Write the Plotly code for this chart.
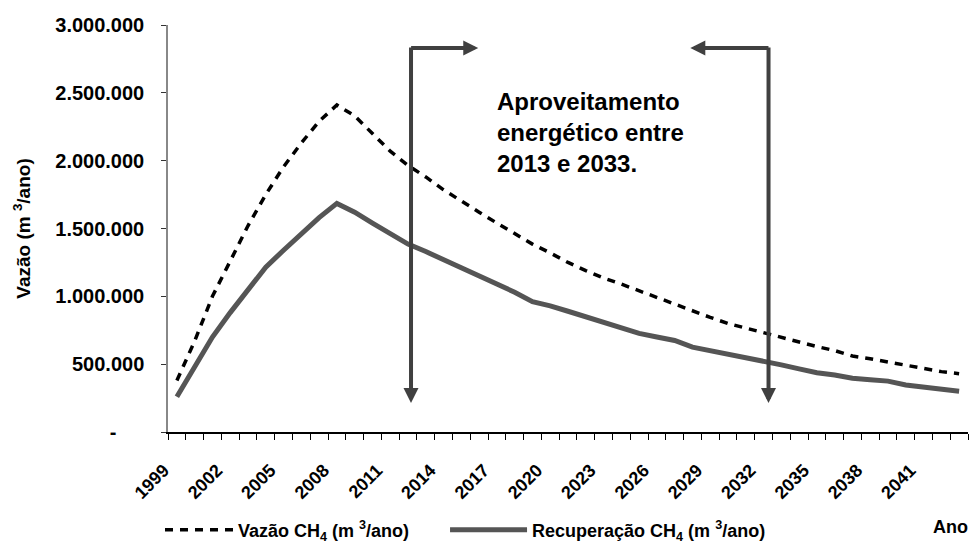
import plotly.graph_objects as go

# ---------------- data ----------------
years = [1999, 2000, 2001, 2002, 2003, 2004, 2005, 2006, 2007, 2008,
         2009, 2010, 2011, 2012, 2013, 2014, 2015, 2016, 2017, 2018,
         2019, 2020, 2021, 2022, 2023, 2024, 2025, 2026, 2027, 2028,
         2029, 2030, 2031, 2032, 2033, 2034, 2035, 2036, 2037, 2038,
         2039, 2040, 2041, 2042, 2043]

vazao_ch4 = [380000, 670000, 1000000, 1260000, 1520000, 1750000, 1955000, 2130000, 2290000, 2410000,
             2330000, 2200000, 2070000, 1965000, 1880000, 1785000, 1700000, 1620000, 1540000, 1460000,
             1385000, 1320000, 1250000, 1190000, 1135000, 1090000, 1040000, 990000, 940000, 890000,
             845000, 800000, 765000, 735000, 700000, 665000, 630000, 600000, 560000, 540000,
             515000, 490000, 465000, 445000, 430000]

recuperacao_ch4 = [260000, 480000, 700000, 880000, 1050000, 1215000, 1340000, 1460000, 1580000, 1685000,
                   1620000, 1540000, 1460000, 1385000, 1330000, 1270000, 1210000, 1150000, 1100000, 1030000,
                   960000, 930000, 890000, 850000, 810000, 770000, 727000, 700000, 675000, 625000,
                   600000, 575000, 550000, 520000, 495000, 465000, 437000, 420000, 396000, 385000,
                   375000, 346000, 330000, 315000, 300000]

x_label_years = [1999, 2002, 2005, 2008, 2011, 2014, 2017, 2020, 2023, 2026, 2029, 2032, 2035, 2038, 2041]
y_tick_values = [0, 500000, 1000000, 1500000, 2000000, 2500000, 3000000]
y_tick_labels = ["-\u00a0\u00a0\u00a0\u00a0\u00a0", "500.000", "1.000.000", "1.500.000",
                 "2.000.000", "2.500.000", "3.000.000"]

series_names = ["Vazão CH<sub>4</sub> (m <sup>3</sup>/ano)",
                "Recuperação CH<sub>4</sub> (m <sup>3</sup>/ano)"]
note_text = "Aproveitamento<br>energético entre<br>2013 e 2033."

# ---------------- styling ----------------
FONT = "Liberation Sans, Arial, Helvetica, sans-serif"
ARROW_COLOR = "#404040"
LEGEND_FONT = dict(family=FONT, size=18, color="black", weight="bold")

fig = go.Figure()
fig.add_trace(go.Scatter(
    x=years, y=vazao_ch4, mode="lines", name=series_names[0], legend="legend",
    line=dict(color="black", width=3.5, dash="8px,7px"),
))
fig.add_trace(go.Scatter(
    x=years, y=recuperacao_ch4, mode="lines", name=series_names[1], legend="legend2",
    line=dict(color="#555555", width=5),
))

# L-shaped arrows marking the period (annotation geometry, not data)
left_x, right_x = 2012.17, 2032.28
top_y, tip_y = 2830000, 214000
corner_pad = 15000
arrow_common = dict(xref="x", yref="y", axref="x", ayref="y", text="", showarrow=True,
                    arrowhead=2, arrowwidth=4, arrowsize=0.75, arrowcolor=ARROW_COLOR)
fig.add_annotation(x=left_x, y=tip_y, ax=left_x, ay=top_y + corner_pad, **arrow_common)
fig.add_annotation(x=2015.95, y=top_y, ax=left_x - 0.08, ay=top_y, **arrow_common)
fig.add_annotation(x=right_x, y=tip_y, ax=right_x, ay=top_y + corner_pad, **arrow_common)
fig.add_annotation(x=2027.88, y=top_y, ax=right_x + 0.08, ay=top_y, **arrow_common)

fig.add_annotation(
    x=2016.9, y=2550000, xref="x", yref="y", xanchor="left", yanchor="top",
    text=note_text, showarrow=False, align="left",
    font=dict(family=FONT, size=24, color="black", weight="bold"),
)
fig.add_annotation(
    x=1.0025, y=-0.233, xref="paper", yref="paper", xanchor="right", yanchor="middle",
    text="Ano", showarrow=False,
    font=dict(family=FONT, size=18, color="black", weight="bold"),
)

fig.update_layout(
    width=975, height=543,
    margin=dict(l=168, r=7, t=25, b=111, autoexpand=False),
    paper_bgcolor="white", plot_bgcolor="white",
    font=dict(family=FONT, color="black"),
    showlegend=True,
    legend=dict(
        orientation="h", x=-0.01, xanchor="left",
        y=-0.241, yanchor="middle", itemwidth=68,
        font=LEGEND_FONT, bgcolor="rgba(0,0,0,0)",
    ),
    legend2=dict(
        orientation="h", x=0.3463, xanchor="left",
        y=-0.241, yanchor="middle", itemwidth=77,
        font=LEGEND_FONT, bgcolor="rgba(0,0,0,0)",
    ),
    xaxis=dict(
        type="linear", range=[1998.5, 2043.5], automargin=False,
        tickvals=x_label_years, ticktext=[str(y) for y in x_label_years],
        tickangle=-45, ticks="", ticklabelshift=-13, ticklabelstandoff=19,
        tickfont=dict(family=FONT, size=18, color="black", weight="bold"),
        minor=dict(ticks="outside", ticklen=6, tickcolor="black", tickwidth=1,
                   tick0=1998.5, dtick=1, showgrid=False),
        showline=True, linecolor="black", linewidth=1.5,
        showgrid=False, zeroline=False,
    ),
    yaxis=dict(
        range=[0, 3000000], automargin=False,
        tickvals=y_tick_values, ticktext=y_tick_labels,
        ticks="outside", ticklen=5, tickcolor="#333333", tickwidth=1,
        ticklabelstandoff=13,
        tickfont=dict(family=FONT, size=20, color="black", weight="bold"),
        showline=True, linecolor="#888888", linewidth=1.5,
        showgrid=False, zeroline=False,
        title=dict(text="Vazão (m <sup>3</sup>/ano)", standoff=20,
                   font=dict(family=FONT, size=19, color="black", weight="bold")),
    ),
)

fig.write_html("out.html", config={"displayModeBar": False},
               post_script="document.body.style.margin='0';")
